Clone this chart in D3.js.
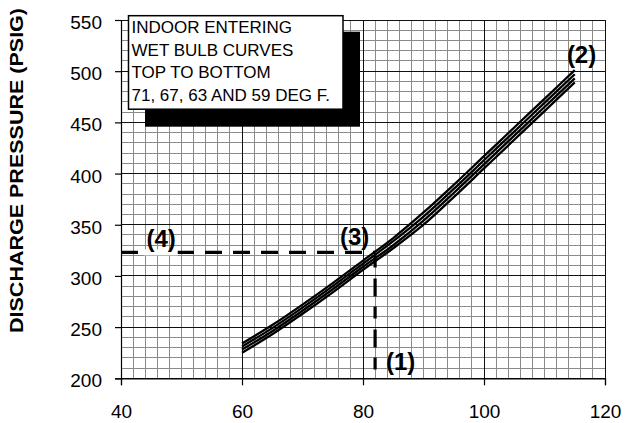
<!DOCTYPE html>
<html>
<head>
<meta charset="utf-8">
<script src="https://cdn.jsdelivr.net/npm/d3@7"></script>
<style>
  body { margin: 0; background: #fff; }
  svg { display: block; font-family: Arial, "Liberation Sans", sans-serif; }
</style>
</head>
<body>
<svg id="svg" width="626" height="423"></svg>
<script>
// outdoor temperature (deg F) at which the curves were read
const outdoorTemps = [60, 65, 70, 75, 80, 85, 90, 95, 100, 105, 110, 115]

// discharge pressure for each indoor wet bulb, top to bottom
const wb71 = [234, 252, 272, 293, 315, 337, 362, 389, 417, 445, 473, 501]
const wb67 = [231, 249, 269, 290, 312, 334, 358, 385, 413, 441, 469, 497]
const wb63 = [228, 246, 266, 287, 309, 330, 354, 381, 409, 437, 465, 493]
const wb59 = [225, 243, 263, 284, 306, 327, 350, 377, 405, 433, 461, 489]

const xTicks = [40, 60, 80, 100, 120]
const yTicks = [200, 250, 300, 350, 400, 450, 500, 550]

const legendLines = ['INDOOR ENTERING', 'WET BULB CURVES', 'TOP TO BOTTOM', '71, 67, 63 AND 59 DEG F.']

// reading example: 82 deg F outdoor -> 323 psig
const readTemp = 82
const readPressure = 323
const notes = [
  { label: '(1)', x: 83.8, y: 208 },
  { label: '(2)', x: 113.7, y: 508 },
  { label: '(3)', x: 76.2, y: 330 },
  { label: '(4)', x: 44.2, y: 328 }
]

const width = 626, height = 423
const margin = { top: 20, right: 21, bottom: 44.7, left: 121 }

const svg = d3.select('#svg')

const x = d3.scaleLinear().domain([40, 120]).range([margin.left, width - margin.right])
const y = d3.scaleLinear().domain([200, 550]).range([height - margin.bottom, margin.top])

// grid - minor first, then major on top
const grid = svg.append('g').attr('shape-rendering', 'crispEdges')
grid.selectAll('.vminor')
  .data(d3.range(40, 121, 2))
  .enter().append('line')
  .attr('x1', d => x(d)).attr('x2', d => x(d))
  .attr('y1', y(200)).attr('y2', y(550))
  .attr('stroke', '#8a8a8a').attr('stroke-width', 1)
grid.selectAll('.hminor')
  .data(d3.range(200, 551, 10))
  .enter().append('line')
  .attr('y1', d => y(d)).attr('y2', d => y(d))
  .attr('x1', x(40)).attr('x2', x(120))
  .attr('stroke', '#8a8a8a').attr('stroke-width', 1)
grid.selectAll('.vmajor')
  .data(xTicks)
  .enter().append('line')
  .attr('x1', d => x(d)).attr('x2', d => x(d))
  .attr('y1', y(200)).attr('y2', y(550))
  .attr('stroke', '#111').attr('stroke-width', 1)
grid.selectAll('.hmajor')
  .data(yTicks)
  .enter().append('line')
  .attr('y1', d => y(d)).attr('y2', d => y(d))
  .attr('x1', x(40)).attr('x2', x(120))
  .attr('stroke', '#111').attr('stroke-width', 1)

// axes
const xAxis = svg.append('g')
  .attr('transform', `translate(0,${y(200)})`)
  .call(d3.axisBottom(x).tickValues(xTicks).tickSize(7).tickPadding(19.5))
const yAxis = svg.append('g')
  .attr('transform', `translate(${x(40)},0)`)
  .call(d3.axisLeft(y).tickValues(yTicks).tickSize(6).tickPadding(13))
;[xAxis, yAxis].forEach(g => {
  g.select('.domain').attr('stroke', '#000').attr('stroke-width', 1.2)
  g.selectAll('.tick line').attr('stroke', '#000').attr('stroke-width', 1.2)
  g.selectAll('.tick text')
    .attr('font-family', 'Arial, "Liberation Sans", sans-serif')
    .attr('font-size', 19).attr('fill', '#000')
})
yAxis.selectAll('.tick text').attr('dy', '0.45em')

svg.append('text')
  .attr('transform', `translate(23,170.5) rotate(-90)`)
  .attr('text-anchor', 'middle')
  .attr('font-size', 19).attr('font-weight', 'bold')
  .attr('textLength', 325).attr('lengthAdjust', 'spacingAndGlyphs')
  .text('DISCHARGE PRESSURE (PSIG)')

// curves
const curves = [wb71, wb67, wb63, wb59]
const line = d3.line()
  .x((d, i) => x(outdoorTemps[i]))
  .y(d => y(d))
  .curve(d3.curveMonotoneX)
svg.selectAll('.curve')
  .data(curves)
  .enter().append('path')
  .attr('d', line)
  .attr('fill', 'none')
  .attr('stroke', '#000')
  .attr('stroke-width', 2.3)

// dashed reading lines
svg.append('line')
  .attr('x1', x(40)).attr('x2', x(readTemp))
  .attr('y1', y(readPressure)).attr('y2', y(readPressure))
  .attr('stroke', '#000').attr('stroke-width', 3.2)
  .attr('stroke-dasharray', '17,11')
svg.append('line')
  .attr('x1', x(readTemp)).attr('x2', x(readTemp))
  .attr('y1', y(readPressure) + 3).attr('y2', y(200))
  .attr('stroke', '#000').attr('stroke-width', 3.2)
  .attr('stroke-dasharray', '12,11,18,10')

// annotation labels
const noteG = svg.selectAll('.note')
  .data(notes)
  .enter().append('g')
noteG.each(function(d) {
  const g = d3.select(this)
  const t = g.append('text')
    .attr('x', x(d.x)).attr('y', y(d.y))
    .attr('font-size', 24).attr('font-weight', 'bold')
    .text(d.label)
  if (d.label === '(4)') {
    const b = t.node().getBBox()
    g.insert('rect', 'text')
      .attr('x', b.x - 2).attr('width', b.width + 4)
      .attr('y', y(readPressure) - 3).attr('height', 6)
      .attr('fill', '#fff')
  }
})

// legend box with drop shadow
const lg = svg.append('g')
lg.append('rect')
  .attr('x', 145).attr('y', 31.7).attr('width', 215).attr('height', 95)
  .attr('fill', '#000')
lg.append('rect')
  .attr('x', 128.5).attr('y', 15.7).attr('width', 214.5).attr('height', 93.5)
  .attr('fill', '#fff').attr('stroke', '#000').attr('stroke-width', 1.5)
lg.selectAll('.lt')
  .data(legendLines)
  .enter().append('text')
  .attr('x', 131.5)
  .attr('y', (d, i) => 33.3 + i * 22.5)
  .attr('font-size', 17)
  .text(d => d)
</script>
</body>
</html>
